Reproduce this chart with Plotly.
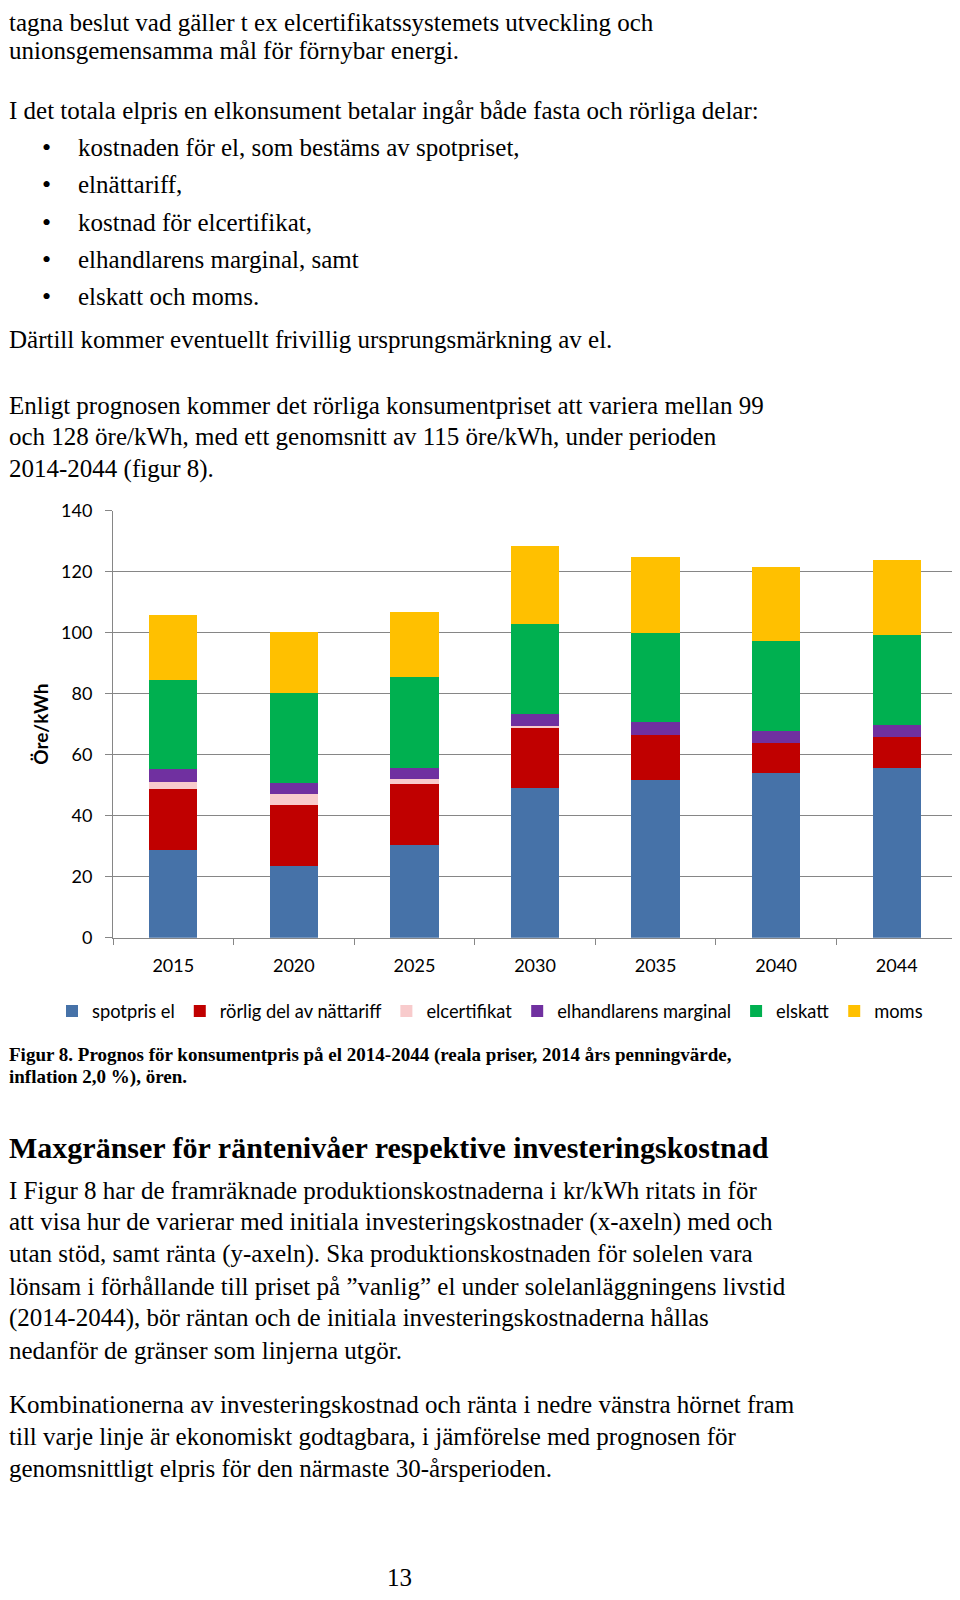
import plotly.graph_objects as go

# ---------------- data ----------------
years = ["2015", "2020", "2025", "2030", "2035", "2040", "2044"]
spotpris_el = [28.7, 23.6, 30.3, 49.0, 51.6, 53.9, 55.8]
rorlig_natt = [20.0, 20.0, 20.0, 20.0, 15.0, 10.0, 10.1]
elcertifikat = [2.4, 3.5, 1.7, 0.4, 0.0, 0.0, 0.0]
elhandl_marg = [4.1, 3.7, 3.8, 4.0, 4.0, 4.0, 3.9]
elskatt = [29.3, 29.5, 29.6, 29.3, 29.2, 29.4, 29.4]
moms = [21.2, 20.0, 21.4, 25.8, 25.0, 24.2, 24.7]

series_names = ["spotpris el", "rörlig del av nättariff", "elcertifikat",
                "elhandlarens marginal", "elskatt", "moms"]
series_values = [spotpris_el, rorlig_natt, elcertifikat, elhandl_marg, elskatt, moms]
series_colors = ["#4672A8", "#C00000", "#F8CBCC", "#7030A0", "#00B050", "#FFC000"]

y_ticks = [0, 20, 40, 60, 80, 100, 120, 140]

# page offset of the figure inside the html page (body margin)
OX, OY = 8, 8
W, H = 944, 1584
SERIF = "Liberation Serif"
SANS = "Lato"

fig = go.Figure()
for name, vals, col in zip(series_names, series_values, series_colors):
    fig.add_trace(go.Bar(x=years, y=vals, name=name, marker_color=col,
                         marker_line_width=0))

def xpap(px):
    return (px - OX) / W

def ypap(py):
    return 1 - (py - OY) / H

# plot area in page pixels
px_left, px_right = 113, 957
py_top, py_bot = 510.7, 937.7
cat_w = (px_right - px_left) / len(years)
vis_right = min(px_right, OX + W)
x_end = -0.5 + (vis_right - px_left) / cat_w

fig.update_layout(
    width=W, height=H,
    margin=dict(l=0, r=0, t=0, b=0, autoexpand=False),
    paper_bgcolor="white", plot_bgcolor="white",
    barmode="stack", bargap=0.6,
    font=dict(family=SANS, size=18, color="black"),
    showlegend=True,
    legend=dict(orientation="h", x=xpap(52), xanchor="left",
                y=ypap(1011), yanchor="middle",
                font=dict(family=SANS, size=18.3, color="black"),
                traceorder="normal", itemwidth=30),
    xaxis=dict(domain=[xpap(px_left), xpap(vis_right)], type="category",
               range=[-0.5, x_end], automargin=False,
               showgrid=False, showline=True, linecolor="#868686", linewidth=1,
               ticks="outside", tickson="boundaries", ticklen=6,
               tickcolor="#868686", tickfont=dict(family=SANS, size=18),
               ticklabelstandoff=12),
    yaxis=dict(domain=[ypap(py_bot), ypap(py_top)], range=[0, 140],
               automargin=False,
               tickvals=y_ticks, showgrid=True, gridcolor="#868686",
               gridwidth=1, showline=True, linecolor="#868686", linewidth=1,
               ticks="outside", ticklen=7, tickcolor="#868686",
               tickfont=dict(family=SANS, size=18), ticklabelstandoff=9,
               zeroline=False,
               title=dict(text="<b>Öre/kWh</b>", font=dict(family=SANS, size=19),
                          standoff=7)),
)

annotations = []

BODY = 25

def add_line(text, py, px=OX, size=BODY, bold=False, anchor="left", yanchor="middle"):
    t = f"<b>{text}</b>" if bold else text
    annotations.append(dict(text=t, x=xpap(px), y=ypap(py), xref="paper", yref="paper",
                            xanchor=anchor, yanchor=yanchor, showarrow=False,
                            borderpad=0,
                            font=dict(family=SERIF, size=size, color="black")))

# first line sits at the very top of the page
add_line("tagna beslut vad gäller t ex elcertifikatssystemets utveckling och",
         OY, yanchor="top")

body_lines = [
    (51, "unionsgemensamma mål för förnybar energi."),
    (110, "I det totala elpris en elkonsument betalar ingår både fasta och rörliga delar:"),
    (340, "Därtill kommer eventuellt frivillig ursprungsmärkning av el."),
    (405, "Enligt prognosen kommer det rörliga konsumentpriset att variera mellan 99"),
    (437, "och 128 öre/kWh, med ett genomsnitt av 115 öre/kWh, under perioden"),
    (469, "2014-2044 (figur 8)."),
    (1190, "I Figur 8 har de framräknade produktionskostnaderna i kr/kWh ritats in för"),
    (1222, "att visa hur de varierar med initiala investeringskostnader (x-axeln) med och"),
    (1254, "utan stöd, samt ränta (y-axeln). Ska produktionskostnaden för solelen vara"),
    (1286, "lönsam i förhållande till priset på ”vanlig” el under solelanläggningens livstid"),
    (1318, "(2014-2044), bör räntan och de initiala investeringskostnaderna hållas"),
    (1350, "nedanför de gränser som linjerna utgör."),
    (1404, "Kombinationerna av investeringskostnad och ränta i nedre vänstra hörnet fram"),
    (1436, "till varje linje är ekonomiskt godtagbara, i jämförelse med prognosen för"),
    (1468, "genomsnittligt elpris för den närmaste 30-årsperioden."),
]
for py, t in body_lines:
    add_line(t, py)

bullets = [
    (148, "kostnaden för el, som bestäms av spotpriset,"),
    (185, "elnättariff,"),
    (222, "kostnad för elcertifikat,"),
    (260, "elhandlarens marginal, samt"),
    (297, "elskatt och moms."),
]
for py, t in bullets:
    add_line("•", py, px=46, size=26, anchor="center")
    add_line(t, py, px=77)

add_line("Figur 8. Prognos för konsumentpris på el 2014-2044 (reala priser, 2014 års penningvärde,",
         1055, size=19, bold=True)
add_line("inflation 2,0 %), ören.", 1077, size=19, bold=True)
add_line("Maxgränser för räntenivåer respektive investeringskostnad", 1147, size=30, bold=True)
add_line("13", OY + H, px=399, anchor="center", yanchor="bottom")

fig.update_layout(annotations=annotations)

fig.write_html("out.html")
